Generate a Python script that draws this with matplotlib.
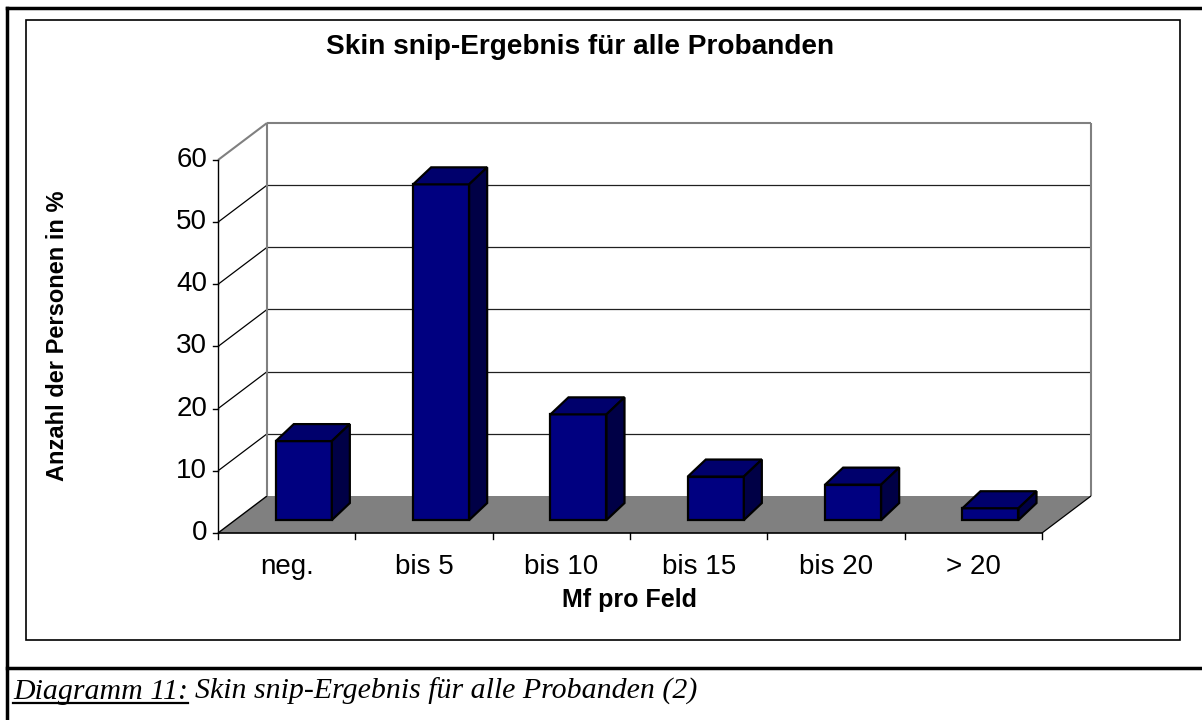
import matplotlib
matplotlib.use("Agg")
import matplotlib.pyplot as plt
from matplotlib.patches import Polygon, Rectangle
from matplotlib.lines import Line2D

plt.rcParams['font.family'] = ['Liberation Sans', 'DejaVu Sans']

# Daten
kategorien = ["neg.", "bis 5", "bis 10", "bis 15", "bis 20", "> 20"]
anteile = [12.7, 54.0, 17.0, 7.0, 5.7, 1.9]
y_ticks = [0, 10, 20, 30, 40, 50, 60]
titel = "Skin snip-Ergebnis für alle Probanden"
y_label = "Anzahl der Personen in %"
x_label = "Mf pro Feld"

W, H = 1202, 720
fig = plt.figure(figsize=(W / 100, H / 100), dpi=100)
fig.patch.set_facecolor("white")

# Hintergrund-Achse in Pixeln (Rahmen, Texte)
bg = fig.add_axes([0, 0, 1, 1], zorder=0)
bg.set_xlim(0, W)
bg.set_ylim(H, 0)
bg.axis("off")

# Vorderebene des 3D-Diagramms
ax = fig.add_axes([218 / W, 187 / H, 824 / W, 373 / H], zorder=1)
ax.set_xlim(0, len(kategorien))
ax.set_ylim(0, 60)
ax.axis("off")
ax.patch.set_alpha(0)

# Tiefe: Pixelverschiebung der Rückwand
TIEFE_X, TIEFE_Y = 49, 37
px_x = 824 / len(kategorien)   # Pixel je Kategorie
px_y = 373 / 60                # Pixel je Prozent


def proj(x, v, z):
    # schraege Projektion in Datenkoordinaten
    return (x + z * TIEFE_X / px_x, v + z * TIEFE_Y / px_y)


def linie(p, q, farbe="black", lw=1.0, zo=2):
    ax.add_line(Line2D([p[0], q[0]], [p[1], q[1]], color=farbe, lw=lw,
                       zorder=zo, clip_on=False, solid_capstyle="butt"))


n = len(kategorien)
grau = "#808080"

# Boden
boden = Polygon([proj(0, 0, 0), proj(n, 0, 0), proj(n, 0, 1), proj(0, 0, 1)],
                closed=True, facecolor=grau, edgecolor="none", zorder=1, clip_on=False)
ax.add_patch(boden)

# Gitterlinien Rueckwand und Seitenwand
for v in y_ticks:
    if v == 0:
        linie(proj(0, 0, 0), proj(0, 0, 1))
        continue
    if v == 60:
        linie(proj(0, v, 1), proj(n, v, 1), grau, 1.5)
        linie(proj(0, v, 0), proj(0, v, 1), grau, 1.5)
    else:
        linie(proj(0, v, 1), proj(n, v, 1), "#202020", 0.9)
        linie(proj(0, v, 0), proj(0, v, 1), "black", 0.9)

# Kanten der Rueckwand
linie(proj(0, 0, 1), proj(0, 60, 1), grau, 1.5)
linie(proj(n, 0, 1), proj(n, 60, 1), grau, 1.5)

# Achsen vorne
linie(proj(0, 0, 0), proj(0, 60, 0), "black", 1.0, 3)
linie(proj(0, 0, 0), proj(n, 0, 0), "black", 1.2, 3)
linie(proj(n, 0, 0), proj(n, 0, 1), "black", 0.9, 3)

# Teilstriche
for v in y_ticks:
    ax.plot([0, -5 / px_x], [v, v], color="black", lw=1, clip_on=False, zorder=3)
    ax.text(-11 / px_x, v, str(v), ha="right", va="center", fontsize=20)
for i in range(n + 1):
    ax.plot([i, i], [0, -6 / px_y], color="black", lw=1, clip_on=False, zorder=3)
for i, k in enumerate(kategorien):
    ax.text(i + 0.5, -41 / px_y, k, ha="center", va="baseline", fontsize=20)

# Saeulen
z0 = 0.35
halb = 0.204
BAR_DX, BAR_DY = 18 / px_x, 17 / px_y
for i, wert in enumerate(anteile):
    bx, by = proj(i + 0.5, 0, z0)
    l, r = bx - halb, bx + halb
    t = by + wert
    vorne = Polygon([(l, by), (r, by), (r, t), (l, t)], closed=True,
                    facecolor="#000080", edgecolor="black", lw=1.6, zorder=4,
                    joinstyle="miter", clip_on=False)
    oben = Polygon([(l, t), (r, t), (r + BAR_DX, t + BAR_DY), (l + BAR_DX, t + BAR_DY)],
                   closed=True, facecolor="#00006C", edgecolor="black", lw=1.6,
                   zorder=4, joinstyle="miter", clip_on=False)
    seite = Polygon([(r, by), (r + BAR_DX, by + BAR_DY), (r + BAR_DX, t + BAR_DY), (r, t)],
                    closed=True, facecolor="#000046", edgecolor="black", lw=1.6,
                    zorder=4, joinstyle="miter", clip_on=False)
    ax.add_patch(vorne)
    ax.add_patch(oben)
    ax.add_patch(seite)

# Rahmen
bg.add_patch(Rectangle((26, 20), 1180 - 26, 640 - 20, fill=False, edgecolor="black", lw=1.2))
bg.plot([7, 7], [8, H], color="black", lw=2.5)
bg.plot([7, W], [8, 8], color="black", lw=2.5)
bg.plot([7, W], [668, 668], color="black", lw=2.5)

# Beschriftungen
bg.text(580, 47, titel, ha="center", va="center", fontsize=20.2, fontweight="bold")
bg.text(58, 336, y_label, ha="center", va="center", rotation=90, fontsize=17, fontweight="bold")
bg.text(630, 607, x_label, ha="center", va="baseline", fontsize=18, fontweight="bold")

# Bildunterschrift
t1 = bg.text(13, 699, "Diagramm 11:", ha="left", va="baseline", fontsize=21.5,
             family="Liberation Serif", style="italic")
fig.canvas.draw()
ext = t1.get_window_extent()
x1 = ext.x1
bg.plot([13, x1], [703, 703], color="black", lw=1.6)
bg.text(x1 + 7, 699, "Skin snip-Ergebnis für alle Probanden (2)", ha="left", va="baseline",
        fontsize=21.5, family="Liberation Serif", style="italic")

fig.savefig("out.png", dpi=100)
